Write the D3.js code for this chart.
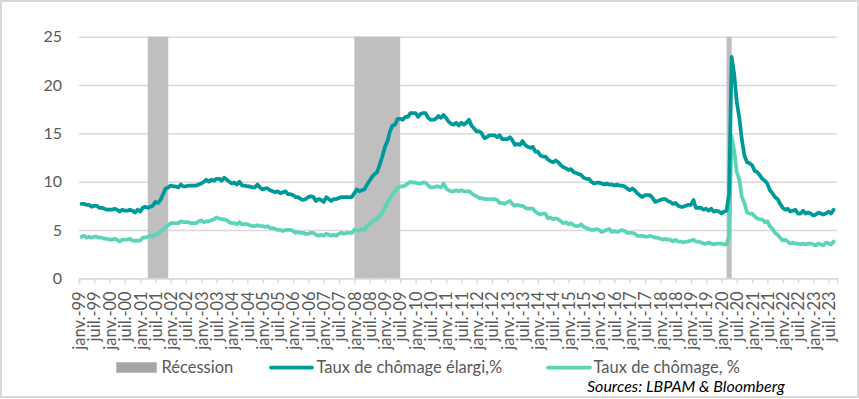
<!DOCTYPE html>
<html>
<head>
<meta charset="utf-8">
<script src="https://cdn.jsdelivr.net/npm/d3@7"></script>
<style>
    html, body { margin: 0; padding: 0; background: #fff; }
    svg { display: block; font-family: Lato, "Open Sans", sans-serif; }
</style>
</head>
<body>
<svg id="chart" width="859" height="399"></svg>
<script>
// monthly values, janv. 1999 -> août 2023
const startYear = 1999;

// Taux de chômage élargi, %
const broadRate = [
    7.7, 7.7, 7.6, 7.6, 7.4, 7.5, 7.5, 7.3, 7.3, 7.2, 7.1, 7.1,          // 1999
    7.1, 7.2, 7.1, 6.9, 7.1, 7.0, 7.0, 7.1, 7.0, 6.8, 7.1, 6.9,          // 2000
    7.3, 7.4, 7.3, 7.4, 7.5, 7.9, 7.8, 8.1, 8.7, 9.3, 9.4, 9.6,          // 2001
    9.5, 9.5, 9.4, 9.7, 9.5, 9.5, 9.6, 9.6, 9.6, 9.6, 9.7, 9.8,          // 2002
    10.0, 10.2, 10.0, 10.2, 10.1, 10.3, 10.3, 10.1, 10.4, 10.2, 10.0, 9.8, // 2003
    9.9, 9.7, 10.0, 9.6, 9.6, 9.5, 9.5, 9.4, 9.4, 9.7, 9.4, 9.2,         // 2004
    9.3, 9.3, 9.1, 9.0, 8.9, 9.0, 8.8, 8.9, 9.0, 8.7, 8.7, 8.6,          // 2005
    8.4, 8.4, 8.2, 8.1, 8.2, 8.4, 8.5, 8.4, 8.0, 8.2, 8.1, 7.9,          // 2006
    8.4, 8.2, 8.0, 8.2, 8.2, 8.3, 8.4, 8.4, 8.4, 8.4, 8.4, 8.8,          // 2007
    9.2, 9.0, 9.1, 9.2, 9.7, 10.1, 10.5, 10.8, 11.0, 11.8, 12.6, 13.6,   // 2008
    14.2, 15.2, 15.8, 15.9, 16.5, 16.5, 16.4, 16.7, 16.7, 17.1, 17.1, 17.1, // 2009
    16.7, 17.0, 17.1, 17.1, 16.6, 16.4, 16.4, 16.5, 16.8, 16.6, 16.9, 16.6, // 2010
    16.2, 16.0, 15.9, 16.1, 15.8, 16.1, 15.9, 16.1, 16.4, 15.8, 15.5, 15.2, // 2011
    15.2, 15.0, 14.5, 14.6, 14.8, 14.8, 14.8, 14.6, 14.8, 14.4, 14.4, 14.4, // 2012
    14.6, 14.3, 13.8, 13.9, 13.8, 14.2, 13.8, 13.6, 13.5, 13.6, 13.1, 13.1, // 2013
    12.7, 12.6, 12.6, 12.3, 12.1, 12.0, 12.2, 12.0, 11.7, 11.5, 11.4, 11.2, // 2014
    11.3, 11.0, 10.9, 10.8, 10.7, 10.4, 10.3, 10.3, 10.0, 9.8, 9.9, 9.9,   // 2015
    9.8, 9.7, 9.8, 9.7, 9.7, 9.6, 9.7, 9.6, 9.6, 9.5, 9.3, 9.1,          // 2016
    9.3, 9.1, 8.8, 8.6, 8.4, 8.6, 8.6, 8.6, 8.3, 7.9, 8.0, 8.1,          // 2017
    8.2, 8.2, 8.0, 7.9, 7.7, 7.8, 7.5, 7.4, 7.4, 7.5, 7.6, 7.6,          // 2018
    8.1, 7.3, 7.3, 7.3, 7.1, 7.2, 7.0, 7.2, 6.9, 7.0, 6.9, 6.7,          // 2019
    6.9, 7.0, 8.7, 22.9, 21.1, 18.3, 16.6, 14.3, 12.7, 12.0, 11.9, 11.7, // 2020
    11.1, 11.0, 10.7, 10.3, 10.1, 9.8, 9.1, 8.8, 8.4, 8.2, 7.7, 7.3,     // 2021
    7.1, 7.2, 6.9, 7.0, 7.1, 6.7, 6.7, 7.0, 6.7, 6.8, 6.7, 6.5,          // 2022
    6.6, 6.8, 6.7, 6.6, 6.7, 6.9, 6.7, 7.1                               // 2023
];

// Taux de chômage, %
const rate = [
    4.3, 4.4, 4.2, 4.3, 4.2, 4.3, 4.3, 4.2, 4.2, 4.1, 4.1, 4.0,   // 1999
    4.0, 4.1, 4.0, 3.8, 4.0, 4.0, 4.0, 4.1, 3.9, 3.9, 3.9, 3.9,   // 2000
    4.2, 4.2, 4.3, 4.4, 4.3, 4.5, 4.6, 4.9, 5.0, 5.3, 5.5, 5.7,   // 2001
    5.7, 5.7, 5.7, 5.9, 5.8, 5.8, 5.8, 5.7, 5.7, 5.7, 5.9, 6.0,   // 2002
    5.8, 5.9, 5.9, 6.0, 6.1, 6.3, 6.2, 6.1, 6.1, 6.0, 5.8, 5.7,   // 2003
    5.7, 5.6, 5.8, 5.6, 5.6, 5.6, 5.5, 5.4, 5.4, 5.5, 5.4, 5.4,   // 2004
    5.3, 5.4, 5.2, 5.2, 5.1, 5.0, 5.0, 4.9, 5.0, 5.0, 5.0, 4.9,   // 2005
    4.7, 4.8, 4.7, 4.7, 4.6, 4.6, 4.7, 4.7, 4.5, 4.4, 4.5, 4.4,   // 2006
    4.6, 4.5, 4.4, 4.5, 4.4, 4.6, 4.7, 4.6, 4.7, 4.7, 4.7, 5.0,   // 2007
    5.0, 4.9, 5.1, 5.0, 5.4, 5.6, 5.8, 6.1, 6.1, 6.5, 6.8, 7.3,   // 2008
    7.8, 8.3, 8.7, 9.0, 9.4, 9.5, 9.5, 9.6, 9.8, 10.0, 9.9, 9.9,  // 2009
    9.8, 9.8, 9.9, 9.9, 9.6, 9.4, 9.4, 9.5, 9.5, 9.4, 9.8, 9.3,   // 2010
    9.1, 9.0, 9.0, 9.1, 9.0, 9.1, 9.0, 9.0, 9.0, 8.8, 8.6, 8.5,   // 2011
    8.3, 8.3, 8.2, 8.2, 8.2, 8.2, 8.2, 8.1, 7.8, 7.8, 7.7, 7.9,   // 2012
    8.0, 7.7, 7.5, 7.6, 7.5, 7.5, 7.3, 7.2, 7.2, 7.2, 6.9, 6.7,   // 2013
    6.6, 6.7, 6.7, 6.2, 6.3, 6.1, 6.2, 6.1, 5.9, 5.7, 5.8, 5.6,   // 2014
    5.7, 5.5, 5.4, 5.4, 5.6, 5.3, 5.2, 5.1, 5.0, 5.0, 5.1, 5.0,   // 2015
    4.8, 4.9, 5.0, 5.1, 4.8, 4.9, 4.8, 4.9, 5.0, 4.9, 4.7, 4.7,   // 2016
    4.7, 4.6, 4.4, 4.4, 4.4, 4.3, 4.3, 4.4, 4.3, 4.2, 4.2, 4.1,   // 2017
    4.0, 4.1, 4.0, 4.0, 3.8, 4.0, 3.8, 3.8, 3.7, 3.8, 3.8, 3.9,   // 2018
    4.0, 3.8, 3.8, 3.7, 3.6, 3.6, 3.7, 3.6, 3.5, 3.6, 3.6, 3.6,   // 2019
    3.5, 3.5, 4.4, 14.7, 13.2, 11.0, 10.2, 8.4, 7.8, 6.8, 6.7, 6.7, // 2020
    6.4, 6.2, 6.1, 6.1, 5.8, 5.9, 5.4, 5.1, 4.7, 4.5, 4.2, 3.9,   // 2021
    4.0, 3.8, 3.6, 3.7, 3.6, 3.6, 3.5, 3.6, 3.5, 3.6, 3.6, 3.5,   // 2022
    3.4, 3.6, 3.5, 3.4, 3.7, 3.6, 3.5, 3.8                        // 2023
];

// NBER recessions, first and last month
const recessions = [
    ["2001-03", "2001-11"],
    ["2007-12", "2009-06"],
    ["2020-02", "2020-04"]
];

const legendLabels = ["Récession", "Taux de chômage élargi,%", "Taux de chômage, %"];
const yTicks = [0, 5, 10, 15, 20, 25];
const monthNames = { 0: "janv.", 6: "juil." };
const sourceText = "Sources: LBPAM & Bloomberg";

const colors = {
    recession: "#bfbfbf",
    broad: "#009999",
    rate: "#5cd4b7",
    grid: "#d9d9d9",
    text: "#595959"
};

const plot = { left: 79, right: 837, top: 36.7, bottom: 278.3 };

const svg = d3.select("#chart");

// month end date of the i-th value
const monthEnd = i => new Date(startYear, i + 1, 0);
// "YYYY-MM" -> first day of the following month (end of that month)
const afterMonth = s => {
    const [y, m] = s.split("-").map(Number);
    return new Date(y, m, 1);
};

const x = d3.scaleTime()
    .domain([new Date(startYear, 0, 1), new Date(2023, 9, 10)])
    .range([plot.left, plot.right]);

const y = d3.scaleLinear()
    .domain([0, 25])
    .range([plot.bottom, plot.top]);

// outer frame
svg.append("rect")
    .attr("x", 1).attr("y", 1)
    .attr("width", 857).attr("height", 396)
    .attr("fill", "#fff")
    .attr("stroke", colors.grid)
    .attr("stroke-width", 2);

// y axis + gridlines
const yAxis = d3.axisLeft(y)
    .tickValues(yTicks)
    .tickSize(-(plot.right - plot.left))
    .tickPadding(17);

const yGroup = svg.append("g")
    .attr("transform", `translate(${plot.left},0)`)
    .call(yAxis);

yGroup.select(".domain").remove();
yGroup.selectAll(".tick line")
    .attr("stroke", colors.grid)
    .attr("stroke-width", 1.5);
yGroup.selectAll(".tick text")
    .attr("fill", colors.text)
    .attr("font-size", 16)
    .attr("font-family", "Lato, sans-serif");

// recession bands
svg.append("g")
    .selectAll("rect")
    .data(recessions)
    .join("rect")
    .attr("x", d => x(afterMonth(d[0])))
    .attr("width", d => x(afterMonth(d[1])) - x(afterMonth(d[0])))
    .attr("y", y(25))
    .attr("height", y(0) - y(25))
    .attr("fill", colors.recession);

// x axis
const xTicks = d3.timeMonth.every(6).range(new Date(startYear, 0, 1), new Date(2023, 7, 1));
const xAxis = d3.axisBottom(x)
    .tickValues(xTicks)
    .tickSize(5)
    .tickFormat(d => monthNames[d.getMonth()] + "-" + d3.timeFormat("%y")(d));

const xGroup = svg.append("g")
    .attr("transform", `translate(0,${plot.bottom})`)
    .call(xAxis);

xGroup.select(".domain")
    .attr("stroke", colors.grid)
    .attr("stroke-width", 1.5);
xGroup.selectAll(".tick line")
    .attr("stroke", colors.grid)
    .attr("stroke-width", 1.5);
xGroup.selectAll(".tick text")
    .attr("fill", colors.text)
    .attr("font-size", 16.5)
    .attr("font-family", "Lato, sans-serif")
    .attr("text-anchor", "end")
    .attr("transform", "rotate(-90)")
    .attr("x", -13)
    .attr("y", 0)
    .attr("dy", "0.35em");

// lines
const line = d3.line()
    .x((d, i) => x(monthEnd(i)))
    .y(d => y(d));

svg.append("path")
    .datum(rate)
    .attr("d", line)
    .attr("fill", "none")
    .attr("stroke", colors.rate)
    .attr("stroke-width", 3.75)
    .attr("stroke-linejoin", "round")
    .attr("stroke-linecap", "round");

svg.append("path")
    .datum(broadRate)
    .attr("d", line)
    .attr("fill", "none")
    .attr("stroke", colors.broad)
    .attr("stroke-width", 3.75)
    .attr("stroke-linejoin", "round")
    .attr("stroke-linecap", "round");

// legend
const legend = svg.append("g")
    .attr("font-size", 16.5)
    .attr("fill", colors.text);

legend.append("rect")
    .attr("x", 116.5).attr("y", 362.5)
    .attr("width", 40).attr("height", 10)
    .attr("fill", "#a6a6a6")
    .attr("stroke", "#bfbfbf")
    .attr("stroke-width", 1);
legend.append("text")
    .attr("x", 161.5).attr("y", 372.5)
    .text(legendLabels[0]);

legend.append("line")
    .attr("x1", 271).attr("x2", 312)
    .attr("y1", 367.5).attr("y2", 367.5)
    .attr("stroke", colors.broad)
    .attr("stroke-width", 3.75)
    .attr("stroke-linecap", "round");
legend.append("text")
    .attr("x", 316.5).attr("y", 372.5)
    .text(legendLabels[1]);

legend.append("line")
    .attr("x1", 548).attr("x2", 590)
    .attr("y1", 367.5).attr("y2", 367.5)
    .attr("stroke", colors.rate)
    .attr("stroke-width", 3.75)
    .attr("stroke-linecap", "round");
legend.append("text")
    .attr("x", 593.5).attr("y", 372.5)
    .text(legendLabels[2]);

svg.append("text")
    .attr("x", 587).attr("y", 392)
    .attr("font-size", 16)
    .attr("font-style", "italic")
    .attr("fill", "#000")
    .text(sourceText);
</script>
</body>
</html>
